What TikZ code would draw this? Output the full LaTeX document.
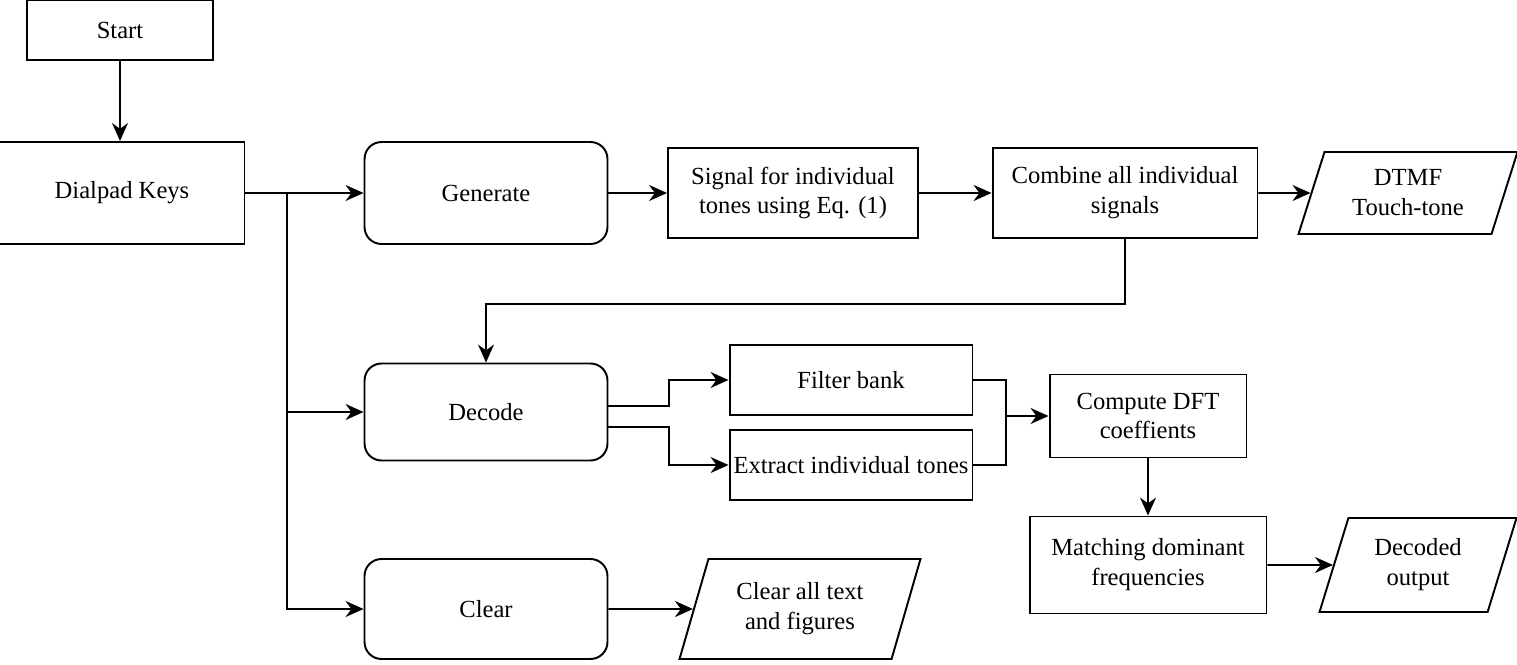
\documentclass[tikz,border=0pt]{standalone}
\usepackage{fontspec}
\setmainfont{Liberation Serif}
\usetikzlibrary{arrows.meta,shapes.geometric}

\tikzset{
  block/.style={draw, line width=1.1pt, align=center, inner sep=2pt,
    font=\fontsize{14pt}{17pt}\selectfont},
  action/.style={block, rounded corners=0.34cm},
  output/.style={block, trapezium, trapezium left angle=64,
    trapezium right angle=116, trapezium stretches body},
  flow/.style={line width=1.1pt, -{Stealth[length=3.6mm,width=3.2mm]}},
  wire/.style={line width=1.1pt}
}

\begin{document}
\begin{tikzpicture}[x=0.02cm, y=-0.02cm]
  \useasboundingbox (0,0) rectangle (1517,665);

  \node[block, minimum width=3.72cm, minimum height=1.2cm] (start) at (120,30) {Start};
  \node[block, minimum width=4.9cm, minimum height=2.04cm] (dialpad) at (122,193) {Dialpad Keys};

  \node[action, minimum width=4.86cm, minimum height=2.04cm] (generate) at (486,193) {Generate};
  \node[block, minimum width=5cm, minimum height=1.8cm] (signal) at (793,193) {Signal for individual\\tones using Eq. (1)};
  \node[block, minimum width=5.3cm, minimum height=1.8cm] (combine) at (1125,193) {Combine all individual\\signals};
  \node[output, minimum width=4.38cm, minimum height=1.64cm] (dtmf) at (1408,193) {DTMF\\Touch-tone};

  \node[action, minimum width=4.86cm, minimum height=1.94cm] (decode) at (486,412) {Decode};
  \node[block, minimum width=4.86cm, minimum height=1.4cm] (filter) at (851,380) {Filter bank};
  \node[block, minimum width=4.86cm, minimum height=1.4cm] (extract) at (851,465) {Extract individual tones};
  \node[block, minimum width=3.94cm, minimum height=1.66cm] (compute) at (1148,416) {Compute DFT\\coeffients};
  \node[block, minimum width=4.74cm, minimum height=1.94cm] (matching) at (1148,565) {Matching dominant\\frequencies};
  \node[output, minimum width=3.94cm, minimum height=1.88cm] (decoded) at (1418,565) {Decoded\\output};

  \node[action, minimum width=4.86cm, minimum height=2cm] (clear) at (486,609) {Clear};
  \node[output, minimum width=4.82cm, minimum height=2cm] (clearout) at (800,609) {Clear all text\\and figures};

  \coordinate (split) at (287,193);
  \coordinate (merge) at (1006,416);

  \draw[flow] (start.south) -- (start.south |- dialpad.north);
  \draw[flow] (dialpad.east) -- (generate.west);
  \draw[flow] (generate.east) -- (signal.west);
  \draw[flow] (signal.east) -- (combine.west);
  \draw[flow] (combine.east) -- (dtmf);
  \draw[wire] (split) -- (split |- clear.west);
  \draw[flow] (split) |- (decode.west);
  \draw[flow] (split) |- (clear.west);
  \draw[flow] (combine.south) -- ++(0,65) -| (decode.north);

  \draw[flow] ([yshift=0.12cm]decode.east) -- ++(61,0) |- (filter.west);
  \draw[flow] ([yshift=-0.3cm]decode.east) -- ++(61,0) |- (extract.west);
  \draw[wire] (filter.east) -| (merge |- extract.east) -- (extract.east);
  \draw[flow] (merge) -- (compute.west);
  \draw[flow] (compute.south) -- (matching.north);
  \draw[flow] (matching.east) -- (decoded);
  \draw[flow] (clear.east) -- (clearout);
\end{tikzpicture}
\end{document}
